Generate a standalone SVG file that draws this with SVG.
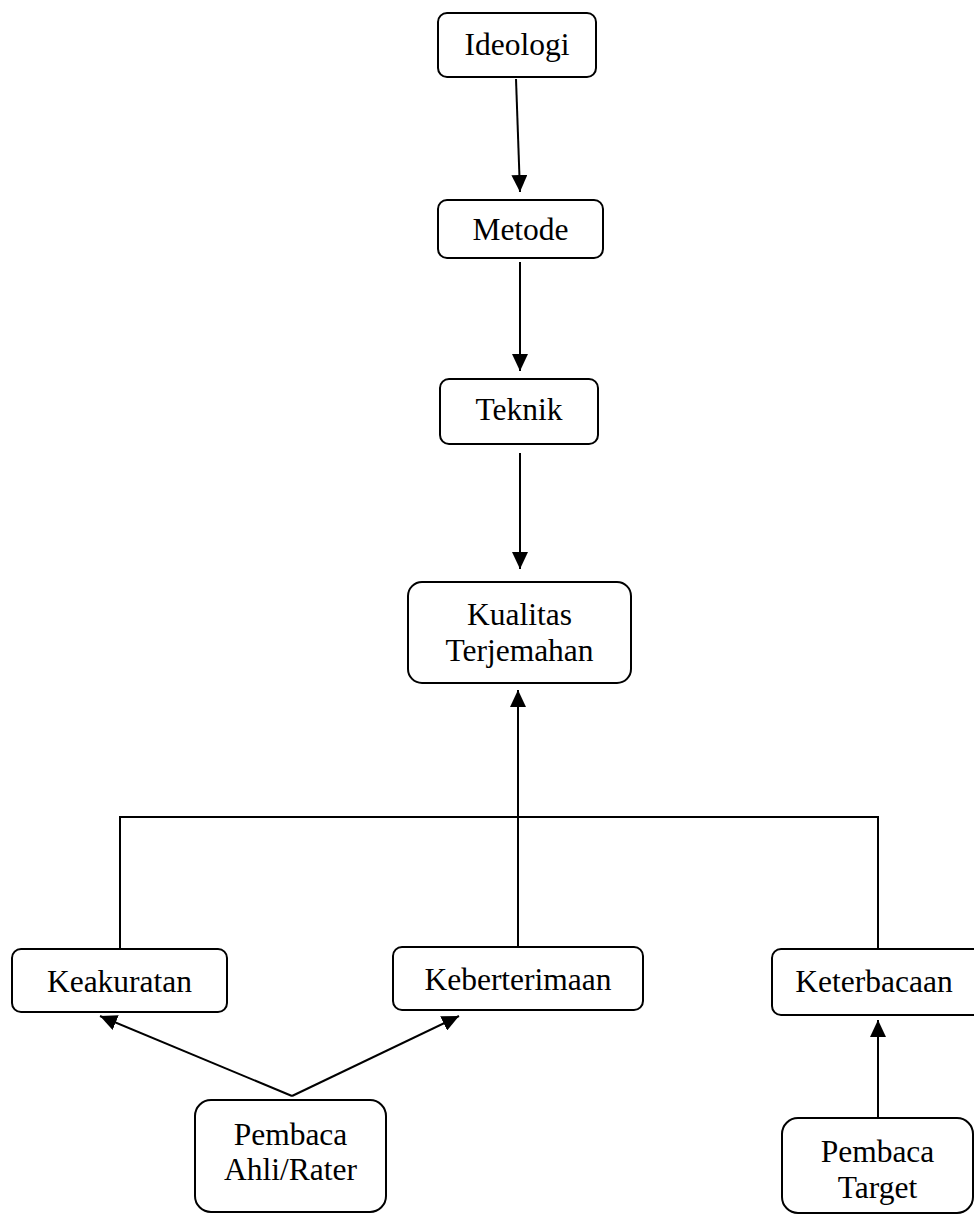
<svg xmlns="http://www.w3.org/2000/svg" width="974" height="1216" viewBox="0 0 974 1216">
<style>
.box{fill:#fff;stroke:#000;stroke-width:2}
.t{font-family:"Liberation Serif","Times New Roman",serif;font-size:31.5px;fill:#000;text-anchor:middle}
.c{fill:none;stroke:#000;stroke-width:2}
</style>
<defs>
<marker id="ah" viewBox="0 0 17 16" refX="17" refY="8" markerWidth="17" markerHeight="16" markerUnits="userSpaceOnUse" orient="auto">
<path d="M0,0 L17,8 L0,16 z" fill="#000"/>
</marker>
</defs>
<rect width="974" height="1216" fill="#fff"/>
<g id="connectors">
<line class="c" x1="516" y1="79" x2="520" y2="192" marker-end="url(#ah)"/>
<line class="c" x1="520" y1="262" x2="520" y2="371" marker-end="url(#ah)"/>
<line class="c" x1="520" y1="453" x2="520" y2="569" marker-end="url(#ah)"/>
<line class="c" x1="518" y1="817" x2="518" y2="690" marker-end="url(#ah)"/>
<polyline class="c" points="120,948 120,817 878,817 878,948"/>
<line class="c" x1="518" y1="817" x2="518" y2="947"/>
<line class="c" x1="292" y1="1096" x2="100" y2="1016" marker-end="url(#ah)"/>
<line class="c" x1="292" y1="1096" x2="459" y2="1016" marker-end="url(#ah)"/>
<line class="c" x1="878" y1="1117" x2="878" y2="1020" marker-end="url(#ah)"/>
</g>
<g id="ideologi"><rect class="box" x="438" y="13" width="158" height="64" rx="9"/><text class="t" x="517" y="55">Ideologi</text></g>
<g id="metode"><rect class="box" x="438" y="200" width="165" height="58" rx="9"/><text class="t" x="520.5" y="240">Metode</text></g>
<g id="teknik"><rect class="box" x="440" y="379" width="158" height="65" rx="9"/><text class="t" x="519" y="420">Teknik</text></g>
<g id="kualitas"><rect class="box" x="408" y="582" width="223" height="101" rx="14"/><text class="t" x="519.5" y="625">Kualitas</text><text class="t" x="519.5" y="661">Terjemahan</text></g>
<g id="keakuratan"><rect class="box" x="12" y="949" width="215" height="63" rx="9"/><text class="t" x="119.5" y="992">Keakuratan</text></g>
<g id="keberterimaan"><rect class="box" x="393" y="947" width="250" height="63" rx="9"/><text class="t" x="518" y="990">Keberterimaan</text></g>
<g id="keterbacaan"><rect class="box" x="772" y="949" width="210" height="66" rx="9"/><text class="t" x="874" y="992">Keterbacaan</text></g>
<g id="pembaca-ahli"><rect class="box" x="195" y="1100" width="191" height="112" rx="16"/><text class="t" x="290.5" y="1145">Pembaca</text><text class="t" x="290.5" y="1180">Ahli/Rater</text></g>
<g id="pembaca-target"><rect class="box" x="782" y="1118" width="191" height="95" rx="16"/><text class="t" x="877.5" y="1162">Pembaca</text><text class="t" x="877.5" y="1198">Target</text></g>
</svg>
